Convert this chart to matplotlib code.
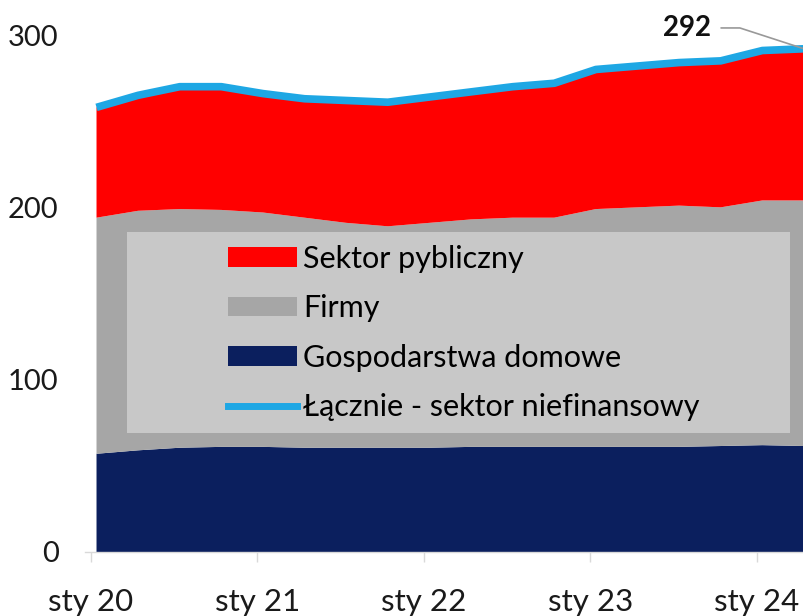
import matplotlib
matplotlib.use("Agg")
import matplotlib.pyplot as plt
import numpy as np
from matplotlib.patches import Rectangle
from matplotlib.lines import Line2D

plt.rcParams['font.family'] = ['Lato', 'DejaVu Sans']

# quarterly observations, Jan 2020 .. Apr 2024 (position in months from Jan 2020)
months = np.arange(18) * 3 + 0.4
tick_pos = [0, 12, 24, 36, 48]
tick_labels = ["sty 20", "sty 21", "sty 22", "sty 23", "sty 24"]

households = [57, 59, 60.5, 61, 61, 60.5, 60.5, 60.5, 60.5, 61, 61, 61, 61, 61, 61, 61.5, 62, 61.5]
firms = [137, 139, 138.5, 137.5, 136, 133.5, 130.5, 128.5, 130.5, 132, 133, 133, 138, 139, 140, 138.5, 142, 142.5]
public = [64, 67, 71, 71.5, 69, 69, 71, 72, 73, 74, 76, 78, 81, 82, 83, 85, 87, 88]
total = [h + f + p for h, f, p in zip(households, firms, public)]

labels = ["Sektor pybliczny", "Firmy", "Gospodarstwa domowe", "Łącznie - sektor niefinansowy"]
c_red, c_grey, c_navy, c_blue = "#ff0000", "#a6a6a6", "#0b1f5e", "#1ea7e4"

fig = plt.figure(figsize=(8.04, 6.16), dpi=100)
ax = fig.add_axes([85 / 804, 64 / 616, 719 / 804, 517 / 616])

ax.stackplot(months, households, firms, public, colors=[c_navy, c_grey, c_red], linewidth=0, zorder=2)
ax.plot(months, total, color=c_blue, lw=5.5, solid_capstyle="butt", zorder=3)

ax.set_xlim(-0.43, 51.4)
ax.set_ylim(0, 300)
ax.set_yticks([0, 100, 200, 300])
ax.set_xticks(tick_pos)
ax.set_xticklabels(tick_labels)
for s in ["left", "right", "top"]:
    ax.spines[s].set_visible(False)
ax.spines["bottom"].set_color("#d9d9d9")
ax.spines["bottom"].set_linewidth(1)
ax.tick_params(axis="y", length=0, pad=19, labelsize=21, labelcolor="#1a1a1a")
ax.tick_params(axis="x", length=7, width=1, color="#d9d9d9", pad=19, labelsize=22.5, labelcolor="#1a1a1a")

# legend background box
ax.add_patch(Rectangle((0.058, 0.230), 0.923, 0.389, transform=ax.transAxes,
                       facecolor="#c8c8c8", edgecolor="none", zorder=4))
handles = [Rectangle((0, 0), 1, 1, fc=c_red, ec="none"),
           Rectangle((0, 0), 1, 1, fc=c_grey, ec="none"),
           Rectangle((0, 0), 1, 1, fc=c_navy, ec="none"),
           Line2D([], [], color=c_blue, lw=5)]
leg = ax.legend(handles, labels, loc="upper left", bbox_to_anchor=(0.199, 0.594),
                frameon=False, fontsize=22, handlelength=2.25, handleheight=0.6,
                handletextpad=0.2, labelspacing=0.70, borderpad=0, borderaxespad=0)
leg.set_zorder(5)

ax.annotate(f"{total[-1]:.0f}", xy=(months[-1], total[-1]), xytext=(-84, 15),
            textcoords="offset points", ha="center", va="center",
            fontsize=20, fontweight="bold", color="#111111",
            arrowprops=dict(arrowstyle="-", color="#999999", lw=1.2,
                            connectionstyle="angle,angleA=0,angleB=162,rad=0",
                            shrinkA=5, shrinkB=0),
            annotation_clip=False, zorder=6)

fig.savefig("out.png", dpi=100)
